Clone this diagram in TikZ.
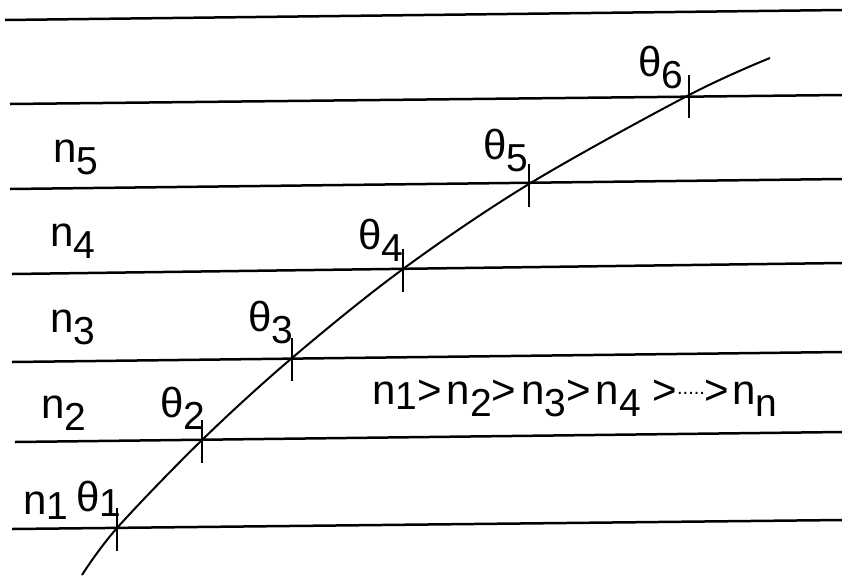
\documentclass[tikz,border=0pt]{standalone}
\usepackage{fontspec}
\setmainfont{Liberation Sans}
\newcommand{\lowr}[1]{\raisebox{-12pt}{\fontsize{39}{39}\selectfont #1}}
\newcommand{\lowrs}[1]{\raisebox{-5pt}{\fontsize{39}{39}\selectfont #1}}
\begin{document}
\begin{tikzpicture}[x=1pt,y=-1pt,
  layer/.style={line width=2.5pt},
  ray/.style={line width=2pt},
  tick/.style={line width=2pt},
  lbl/.style={anchor=base west,inner sep=0pt,font=\fontsize{42}{46}\selectfont}]
\useasboundingbox (0,0) rectangle (842,576);
% interface lines
\draw[layer] (5,20) -- (842,10);
\draw[layer] (10,104) -- (842,95);
\draw[layer] (10,189) -- (842,179);
\draw[layer] (12,274) -- (842,263);
\draw[layer] (12,362) -- (842,352);
\draw[layer] (15,442) -- (842,432);
\draw[layer] (12,529) -- (842,520);
% ray points
\coordinate (s) at (82,575);
\coordinate (t1) at (117,528);
\coordinate (t2) at (202,440);
\coordinate (t3) at (292,358);
\coordinate (t4) at (403,269);
\coordinate (t5) at (529,184);
\coordinate (t6) at (689,95);
\coordinate (e) at (770,58);
\draw[ray] plot[smooth,tension=0.55] coordinates {(s) (t1) (t2) (t3) (t4) (t5) (t6) (e)};
\foreach \p in {t1,t2,t3,t4,t5,t6}
  \draw[tick] (\p) ++(0,-20) -- ++(0,43);
% labels
\node[lbl] (n5) at (53,162) {n\lowr{5}};
\node[lbl] (n4) at (50,246) {n\lowr{4}};
\node[lbl] (n3) at (50,332) {n\lowr{3}};
\node[lbl] (n2) at (41,418) {n\lowr{2}};
\node[lbl] (n1) at (23,514) {n\lowrs{1}};
\node[lbl] (a1) at (76,511) {θ\lowrs{1}};
\node[lbl] (a2) at (160,417) {θ\lowr{2}};
\node[lbl] (a3) at (248,331) {θ\lowr{3}};
\node[lbl] (a4) at (358,249) {θ\lowr{4}};
\node[lbl] (a5) at (483,159) {θ\lowr{5}};
\node[lbl] (a6) at (638,76) {θ\lowr{6}};
\node[lbl] (rel) at (372,404) {n\lowrs{1}>\kern5pt n\lowr{2}>\kern5pt n\lowr{3}>\kern5pt n\lowr{4} >\raisebox{10pt}{\fontsize{20}{20}\selectfont .....}>\kern3pt n\lowr{n}};
\end{tikzpicture}
\end{document}
